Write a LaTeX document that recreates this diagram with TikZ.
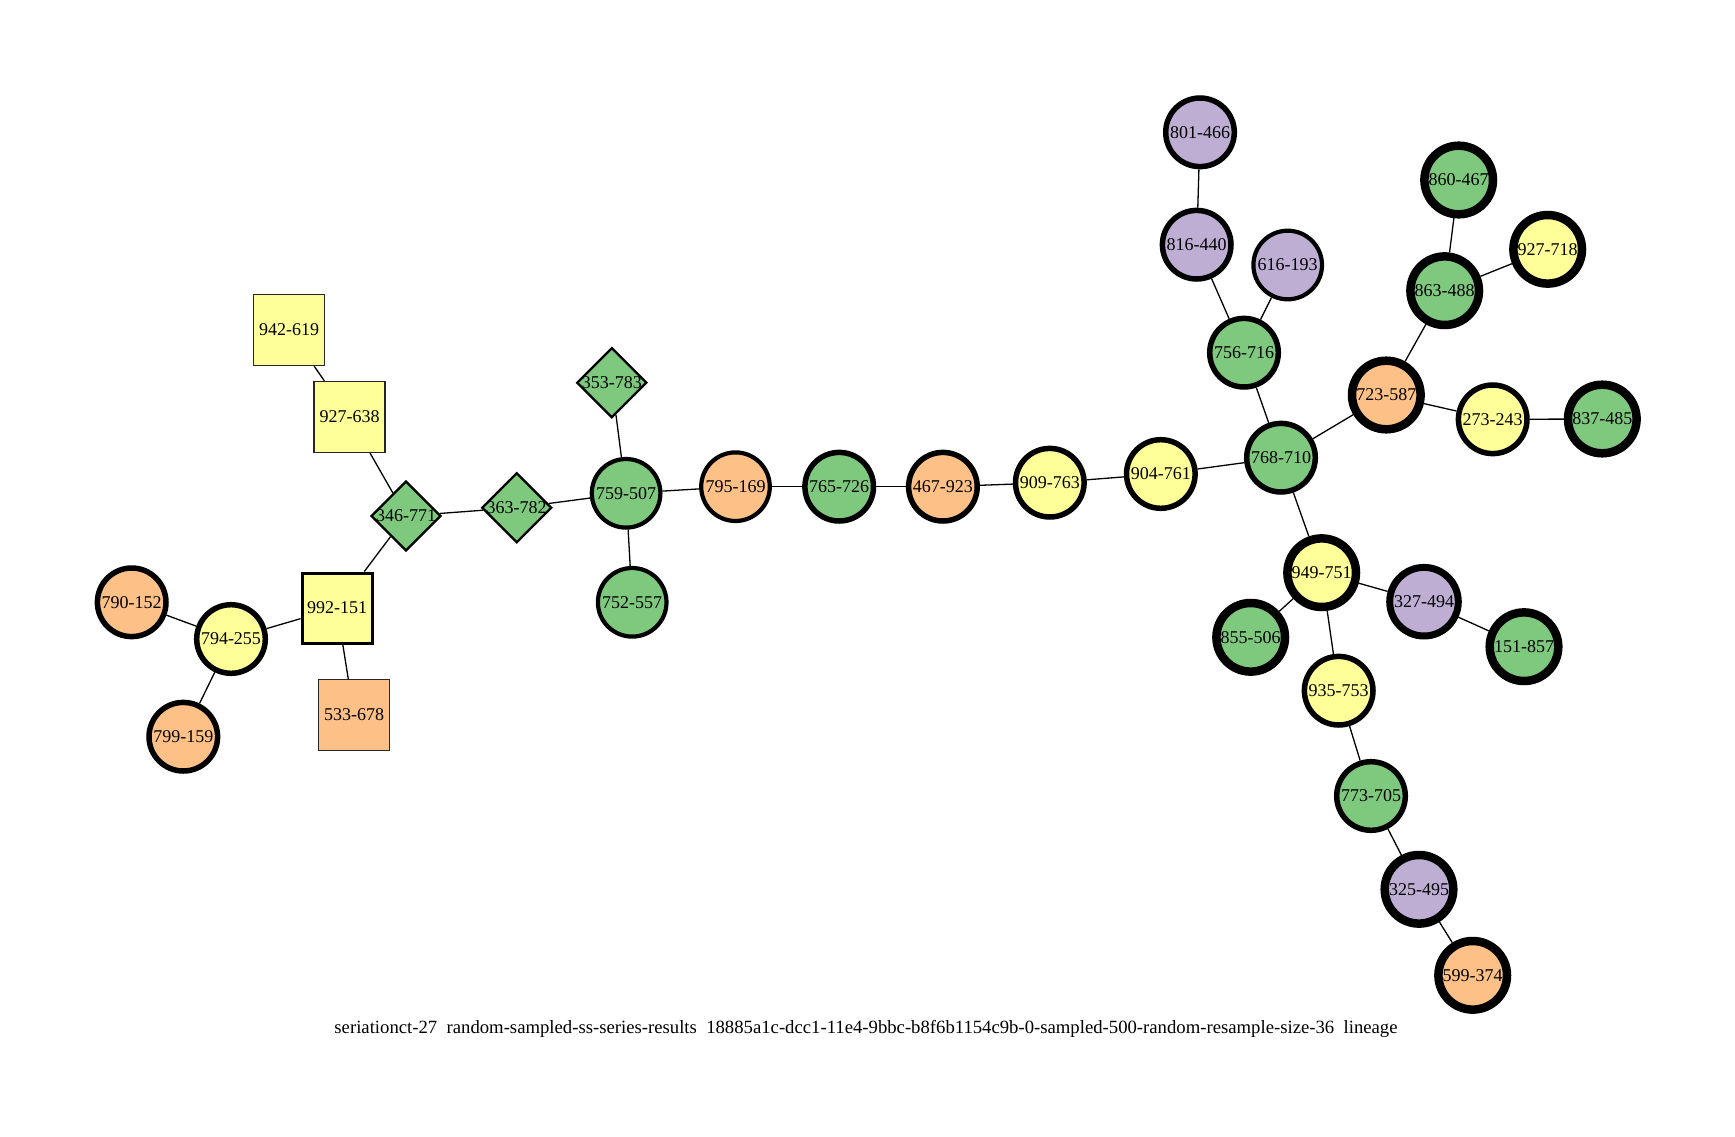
\documentclass[tikz,border=0pt]{standalone}
\usepackage{fontspec}
\setmainfont{Liberation Serif}
\usetikzlibrary{shapes.geometric}
\definecolor{cgreen}{HTML}{7FC97F}
\definecolor{cpurple}{HTML}{BEAED4}
\definecolor{corange}{HTML}{FDC086}
\definecolor{cyellow}{HTML}{FFFF99}
\tikzset{
  lab/.style={font=\fontsize{18}{22}\selectfont},
  circ/.style={lab, circle, draw=black, minimum size=68.6pt, inner sep=0pt},
  bwA/.style={circ, line width=4.2pt},
  bwB/.style={circ, line width=5.5pt},
  bwC/.style={circ, line width=8.5pt},
  bwD/.style={circ, line width=7pt},
  sqthin/.style={lab, rectangle, draw=black!85, line width=1.3pt, minimum size=71pt, inner sep=0pt},
  sqthick/.style={lab, rectangle, draw=black, line width=3pt, minimum size=70pt, inner sep=0pt},
  dia/.style={lab, diamond, aspect=1, draw=black, line width=2.3pt, minimum width=70pt, minimum height=70pt, inner sep=0pt, fill=cgreen},
  edge/.style={line width=1.3pt, black},
}
\begin{document}
\begin{tikzpicture}[x=1pt, y=-1pt]
\useasboundingbox[fill=white] (0,0) rectangle (1735,1137);
% left cluster
\node[sqthin, fill=cyellow] (n942) at (289,330) {942-619};
\node[sqthin, fill=cyellow] (n927a) at (349.5,417) {927-638};
\node[dia] (n346) at (406,516) {\makebox[0pt]{346-771}};
\node[dia] (n363) at (516.7,507.7) {\makebox[0pt]{363-782}};
\node[sqthick, fill=cyellow] (n992) at (337,608) {992-151};
\node[sqthin, fill=corange] (n533) at (354,715) {533-678};
\node[bwB, fill=corange] (n790) at (131.7,602.3) {790-152};
\node[bwB, fill=cyellow] (n794) at (231,639) {794-255};
\node[bwB, fill=corange] (n799) at (183.3,736.7) {799-159};
% middle
\node[dia] (n353) at (611.8,382.7) {\makebox[0pt]{353-783}};
\node[bwA, fill=cgreen] (n759) at (626.1,493.3) {759-507};
\node[bwA, fill=cgreen] (n752) at (632.2,602.3) {752-557};
\node[bwA, fill=corange] (n795) at (735.5,486.7) {795-169};
\node[bwB, fill=cgreen] (n765) at (839.2,486.7) {765-726};
\node[bwB, fill=corange] (n467) at (942.9,486.7) {467-923};
\node[bwB, fill=cyellow] (n909) at (1049.8,482.7) {909-763};
\node[bwB, fill=cyellow] (n904) at (1160.8,474) {904-761};
% right
\node[bwB, fill=cgreen] (n768) at (1281,457.7) {768-710};
\node[bwB, fill=cgreen] (n756) at (1244,352.7) {756-716};
\node[bwB, fill=cpurple] (n816) at (1196.7,244.7) {816-440};
\node[bwB, fill=cpurple] (n801) at (1200,132.3) {801-466};
\node[bwA, fill=cpurple] (n616) at (1287.7,265) {616-193};
\node[bwC, fill=corange] (n723) at (1386.3,395) {723-587};
\node[bwC, fill=cgreen] (n863) at (1444.7,290.7) {863-488};
\node[bwC, fill=cgreen] (n860) at (1458.7,180) {860-467};
\node[bwC, fill=cyellow] (n927b) at (1547.7,249.3) {927-718};
\node[bwB, fill=cyellow] (n273) at (1492.7,419.3) {273-243};
\node[bwC, fill=cgreen] (n837) at (1602.3,419) {837-485};
\node[bwC, fill=cyellow] (n949) at (1321.7,572.7) {949-751};
\node[bwD, fill=cpurple] (n327) at (1424,601.7) {327-494};
\node[bwC, fill=cgreen] (n151) at (1524,646.7) {151-857};
\node[bwC, fill=cgreen] (n855) at (1250.7,637.3) {855-506};
\node[bwB, fill=cyellow] (n935) at (1338.7,690.7) {935-753};
\node[bwB, fill=cgreen] (n773) at (1371,796) {773-705};
\node[bwC, fill=cpurple] (n325) at (1419,889.3) {325-495};
\node[bwC, fill=corange] (n599) at (1472.7,975.3) {599-374};
% title
\node[font=\fontsize{18.7}{22}\selectfont, inner sep=0pt] (title) at (866,1029) {seriationct-27\ \ random-sampled-ss-series-results\ \ 18885a1c-dcc1-11e4-9bbc-b8f6b1154c9b-0-sampled-500-random-resample-size-36\ \ lineage};
% edges
\draw[edge] (n942) -- (n927a);
\draw[edge] (n927a) -- (n346);
\draw[edge] (n346) -- (n363);
\draw[edge] (n346) -- (n992);
\draw[edge] (n992) -- (n794);
\draw[edge] (n992) -- (n533);
\draw[edge] (n794) -- (n790);
\draw[edge] (n794) -- (n799);
\draw[edge] (n363) -- (n759);
\draw[edge] (n759) -- (n353);
\draw[edge] (n759) -- (n752);
\draw[edge] (n759) -- (n795);
\draw[edge] (n795) -- (n765);
\draw[edge] (n765) -- (n467);
\draw[edge] (n467) -- (n909);
\draw[edge] (n909) -- (n904);
\draw[edge] (n904) -- (n768);
\draw[edge] (n768) -- (n756);
\draw[edge] (n756) -- (n816);
\draw[edge] (n756) -- (n616);
\draw[edge] (n816) -- (n801);
\draw[edge] (n768) -- (n723);
\draw[edge] (n723) -- (n863);
\draw[edge] (n863) -- (n860);
\draw[edge] (n863) -- (n927b);
\draw[edge] (n723) -- (n273);
\draw[edge] (n273) -- (n837);
\draw[edge] (n768) -- (n949);
\draw[edge] (n949) -- (n855);
\draw[edge] (n949) -- (n327);
\draw[edge] (n327) -- (n151);
\draw[edge] (n949) -- (n935);
\draw[edge] (n935) -- (n773);
\draw[edge] (n773) -- (n325);
\draw[edge] (n325) -- (n599);
\end{tikzpicture}
\end{document}
